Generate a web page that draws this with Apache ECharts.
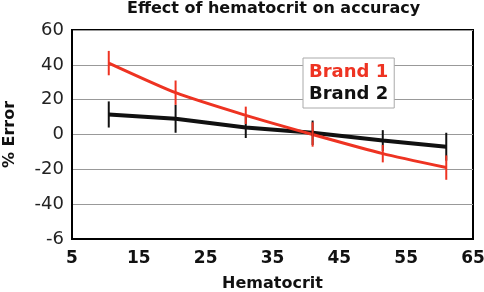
<!DOCTYPE html>
<html>
<head>
<meta charset="utf-8">
<script src="https://cdn.jsdelivr.net/npm/echarts@6/dist/echarts.min.js"></script>
<style>
  html, body { margin: 0; padding: 0; background: #fff; }
  #main { width: 484px; height: 292px; }
</style>
</head>
<body>
<div id="main"></div>
<script>
// hematocrit levels (x) and % error per brand, with error bar half-widths
var hct = [10.5, 20.5, 31, 41, 51.5, 61];
var brand1 = [41, 24, 11, 0, -11, -19];
var brand1Err = [7, 7, 5, 7, 5, 7];
var brand2 = [11.5, 9, 4, 1, -3.5, -7];
var brand2Err = [7.5, 8, 6, 7, 6, 8];
var xTicks = [5, 15, 25, 35, 45, 55, 65];
var yTicks = [60, 40, 20, 0, -20, -40, -60];

var red = '#ee3322';
var black = '#111111';

function pairs(ys) {
    var out = [];
    for (var i = 0; i < hct.length; i++) out.push([hct[i], ys[i]]);
    return out;
}
function bars(ys, err) {
    var out = [];
    for (var i = 0; i < hct.length; i++) out.push([hct[i], ys[i] - err[i], ys[i] + err[i]]);
    return out;
}
function errRender(color) {
    return function (params, api) {
        var a = api.coord([api.value(0), api.value(1)]);
        var b = api.coord([api.value(0), api.value(2)]);
        return {
            type: 'line',
            shape: { x1: a[0], y1: a[1], x2: b[0], y2: b[1] },
            style: { stroke: color, lineWidth: 2 }
        };
    };
}

var chart = echarts.init(document.getElementById('main'));
var option = {
    animation: false,
    title: {
        text: 'Effect of hematocrit on accuracy',
        left: 127,
        top: 1,
        padding: 0,
        textStyle: { fontFamily: 'DejaVu Sans', fontWeight: 'bold', fontSize: 16, color: '#111' }
    },
    legend: {
        orient: 'vertical',
        left: 303,
        top: 58,
        padding: [4, 6, 4, 0],
        itemGap: 2,
        itemWidth: 0,
        itemHeight: 0,
        backgroundColor: '#fff',
        borderColor: '#aaa',
        borderWidth: 1,
        data: [
            { name: 'Brand 1', textStyle: { color: red } },
            { name: 'Brand 2', textStyle: { color: black } }
        ],
        textStyle: { fontFamily: 'DejaVu Sans', fontWeight: 'bold', fontSize: 18, lineHeight: 20 }
    },
    grid: {
        left: 72, right: 11, top: 30, bottom: 53,
        outerBoundsMode: 'none',
        containLabel: false,
        show: true, borderColor: '#000', borderWidth: 2
    },
    xAxis: {
        type: 'value',
        min: 5, max: 65, interval: 10,
        name: 'Hematocrit',
        nameLocation: 'middle',
        nameGap: 37,
        nameTextStyle: { fontFamily: 'DejaVu Sans', fontWeight: 'bold', fontSize: 16, color: '#111' },
        axisLine: { onZero: false, lineStyle: { color: '#000', width: 2 } },
        axisTick: { show: false },
        splitLine: { show: false },
        axisLabel: {
            margin: 11,
            fontFamily: 'DejaVu Sans', fontWeight: 'bold', fontSize: 17, color: '#111',
            formatter: function (v) { return xTicks.indexOf(v) >= 0 ? String(v) : ''; }
        }
    },
    yAxis: {
        type: 'value',
        min: -60, max: 60, interval: 20,
        name: '% Error',
        nameLocation: 'middle',
        nameGap: 54,
        nameTextStyle: { fontFamily: 'DejaVu Sans', fontWeight: 'bold', fontSize: 16, color: '#111' },
        axisLine: { show: true, onZero: false, lineStyle: { color: '#000', width: 2 } },
        axisTick: { show: false },
        splitLine: { lineStyle: { color: '#999', width: 1 } },
        axisLabel: {
            margin: 8,
            fontFamily: 'DejaVu Sans', fontSize: 18, color: '#222',
            formatter: function (v) { return v === -60 ? '-6' : String(v); }
        }
    },
    series: [
        {
            name: 'Brand 2',
            type: 'line',
            data: pairs(brand2),
            symbol: 'none',
            lineStyle: { color: black, width: 4 },
            itemStyle: { color: black },
            z: 3
        },
        {
            name: 'Brand 1',
            type: 'line',
            data: pairs(brand1),
            smooth: 0.2,
            symbol: 'none',
            lineStyle: { color: red, width: 3 },
            itemStyle: { color: red },
            z: 4
        },
        {
            name: 'err2',
            type: 'custom',
            renderItem: errRender(black),
            data: bars(brand2, brand2Err),
            z: 5
        },
        {
            name: 'err1',
            type: 'custom',
            renderItem: errRender(red),
            data: bars(brand1, brand1Err),
            z: 6
        }
    ]
};
chart.setOption(option);
</script>
</body>
</html>
